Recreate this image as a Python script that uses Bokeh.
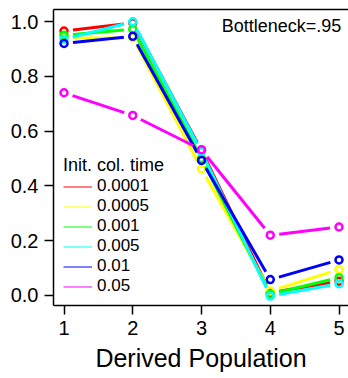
import math
from bokeh.plotting import figure
from bokeh.models import (Range1d, LinearAxis, FixedTicker, Legend, LegendItem,
                          Label, PrintfTickFormatter)
from bokeh.embed import file_html
from bokeh.resources import INLINE

# ---- data ----
populations = [1, 2, 3, 4, 5]
series_labels = ["0.0001", "0.0005", "0.001", "0.005", "0.01", "0.05"]
series_colors = ["#FF0000", "#FFFF00", "#00FF00", "#00FFFF", "#0000FF", "#FF00FF"]
v_0001 = [0.965, 0.995, 0.530, 0.010, 0.052]
v_0005 = [0.940, 0.940, 0.462, 0.016, 0.095]
v_001 = [0.950, 0.972, 0.500, 0.005, 0.065]
v_005 = [0.935, 0.999, 0.525, -0.002, 0.043]
v_01 = [0.920, 0.946, 0.493, 0.058, 0.130]
v_05 = [0.740, 0.657, 0.532, 0.220, 0.250]
series_values = [v_0001, v_0005, v_001, v_005, v_01, v_05]
y_ticks = [0.0, 0.2, 0.4, 0.6, 0.8, 1.0]
x_label = "Derived Population"
note = "Bottleneck=.95"
legend_title = "Init. col. time"

FONT = "Liberation Sans"
W, H = 348, 378
BL, BR, BT, BB = 53, 0, 9, 73
FW, FH = W - BL - BR, H - BT - BB
xr = Range1d(0.847, 5.138)
yr = Range1d(-0.0365, 1.0438)
sx = FW / (xr.end - xr.start)
sy = FH / (yr.end - yr.start)

p = figure(width=W, height=H, x_range=xr, y_range=yr,
           output_backend="svg", toolbar_location=None,
           min_border_left=BL, min_border_right=BR,
           min_border_top=BT, min_border_bottom=BB)
p.outline_line_color = None
p.xgrid.visible = False
p.ygrid.visible = False
p.background_fill_color = "white"
p.border_fill_color = "white"

for ax in (p.xaxis[0], p.yaxis[0]):
    ax.axis_line_width = 1.5
    ax.major_tick_line_width = 1.5
    ax.major_tick_out = 9
    ax.major_tick_in = 0
    ax.minor_tick_line_color = None
    ax.major_label_text_font = FONT
    ax.major_label_text_font_size = "20px"
    ax.major_label_text_color = "black"
    ax.axis_line_color = "black"
    ax.major_tick_line_color = "black"

p.xaxis.ticker = FixedTicker(ticks=populations)
p.xaxis.major_label_standoff = 6
p.xaxis.axis_label = x_label
p.xaxis.axis_label_text_font = FONT
p.xaxis.axis_label_text_font_size = "25px"
p.xaxis.axis_label_text_font_style = "normal"
p.xaxis.axis_label_text_color = "black"
p.xaxis.axis_label_standoff = 6
p.yaxis.ticker = FixedTicker(ticks=y_ticks)
p.yaxis.formatter = PrintfTickFormatter(format="%.1f")
p.yaxis.major_label_standoff = 6

top = LinearAxis(ticker=FixedTicker(ticks=[]), major_label_text_font_size="0px",
                 major_tick_line_color=None, minor_tick_line_color=None,
                 axis_line_width=1.5, axis_line_color="black")
p.add_layout(top, "above")

GAP = 9.0
NAN = float("nan")
items = []
for lab, col, vals in zip(series_labels, series_colors, series_values):
    x0s, y0s, x1s, y1s = [], [], [], []
    for i in range(len(populations) - 1):
        xa, ya, xb, yb = populations[i], vals[i], populations[i + 1], vals[i + 1]
        L = math.hypot((xb - xa) * sx, (yb - ya) * sy)
        if L <= 2 * GAP:
            continue
        f = GAP / L
        x0s.append(xa + f * (xb - xa)); y0s.append(ya + f * (yb - ya))
        x1s.append(xb - f * (xb - xa)); y1s.append(yb - f * (yb - ya))
    p.segment(x0=x0s, y0=y0s, x1=x1s, y1=y1s, line_color=col, line_width=3)
    p.scatter(x=populations, y=vals, marker="circle", size=7, fill_color=None,
              line_color=col, line_width=2.5)
    r = p.line(x=[NAN], y=[NAN], line_color=col, line_width=1)
    items.append(LegendItem(label=lab, renderers=[r]))

legend = Legend(items=items, title=legend_title, location=(10, 9),
                title_text_font=FONT, title_text_font_size="18px",
                title_text_font_style="normal", title_text_color="black",
                title_standoff=0,
                label_text_font=FONT, label_text_font_size="17px",
                label_text_color="black",
                label_height=19, glyph_height=19, glyph_width=29,
                label_standoff=5, spacing=0, padding=0, margin=0,
                border_line_color=None, background_fill_alpha=0)
p.add_layout(legend)

p.add_layout(Label(x=5.032, y=0.985, text=note, text_align="right",
                   text_baseline="middle", text_font=FONT,
                   text_font_size="18px", text_color="black"))

open("out.html", "w").write(file_html(p, INLINE))
